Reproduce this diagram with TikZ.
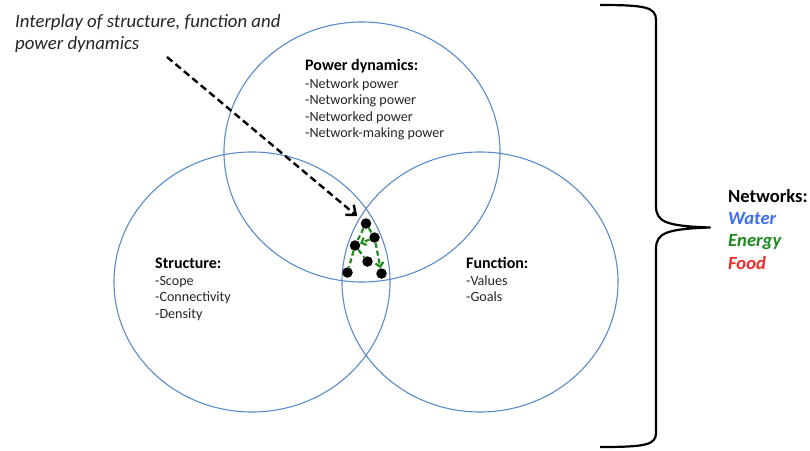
\documentclass[tikz,border=0pt]{standalone}
\usepackage{fontspec}
\setmainfont{Carlito}
\usetikzlibrary{arrows.meta}
\definecolor{ringblue}{HTML}{5B8CC8}
\definecolor{netgreen}{HTML}{1E8A1E}
\definecolor{waterblue}{HTML}{3D6DF2}
\definecolor{foodred}{HTML}{F22A2A}
\definecolor{bodygrey}{HTML}{262626}

\begin{document}
\begin{tikzpicture}[x=1pt,y=-1pt,
  ring/.style={draw=ringblue, line width=1.1pt},
  body/.style={anchor=base west, inner sep=0pt, text=bodygrey,
    font=\fontsize{14.1}{16}\selectfont},
  head/.style={anchor=base west, inner sep=0pt, text=black,
    font=\fontsize{16}{18}\selectfont\bfseries},
  note/.style={anchor=base west, inner sep=0pt, text=bodygrey,
    font=\fontsize{18.8}{21}\selectfont\itshape},
  netlabel/.style={anchor=base west, inner sep=0pt,
    font=\fontsize{18.6}{21}\selectfont\bfseries},
  netitem/.style={netlabel, font=\fontsize{18.6}{21}\selectfont\bfseries\itshape},
  actor/.style={circle, fill=black, inner sep=0pt, minimum size=10.5pt},
  tie/.style={draw=netgreen, line width=2.2pt, dash pattern=on 5pt off 3pt},
  tiearrow/.style={tie, -{Straight Barb[length=4pt,width=8pt]}},
]
\useasboundingbox (0,0) rectangle (810,450);
\fill[white] (0,0) rectangle (810,450);

% three overlapping domains
\draw[ring] (362,152) ellipse [x radius=138, y radius=130];
\draw[ring] (252,282) ellipse [x radius=138, y radius=130];
\draw[ring] (480,282) ellipse [x radius=138, y radius=130];

% caption with pointer
\node[note] (cap1) at (15,27) {Interplay of structure, function and};
\node[note] (cap2) at (15,49) {power dynamics};

% power dynamics
\node[head] (pdh) at (305,70.5) {Power dynamics:};
\node[body] (pd1) at (305,88) {-Network power};
\node[body] (pd2) at (305,104.5) {-Networking power};
\node[body] (pd3) at (305,121) {-Networked power};
\node[body] (pd4) at (305,137.5) {-Network-making power};

% structure
\node[head] (sth) at (155,268.5) {Structure:};
\node[body] (st1) at (155,285) {-Scope};
\node[body] (st2) at (155,301.5) {-Connectivity};
\node[body] (st3) at (155,318) {-Density};

% function
\node[head] (fnh) at (466,268.5) {Function:};
\node[body] (fn1) at (466,285) {-Values};
\node[body] (fn2) at (466,301.5) {-Goals};

% network of actors in the shared region
\node[actor] (T)  at (366,223.5) {};
\node[actor] (R)  at (374.5,237.5) {};
\node[actor] (L)  at (355,245.5) {};
\node[actor] (M)  at (367.5,261.5) {};
\node[actor] (BL) at (347.5,272.5) {};
\node[actor] (BR) at (381.5,273.5) {};
\draw[tie] (T) -- (L);
\draw[tie] (L) -- (BL);
\draw[tie] (T) -- (R);
\draw[tiearrow] (R) -- (BR);
\draw[tiearrow] (R) -- (L);
\draw[tie] (L) -- (M);

% pointer from the caption to the shared region
\coordinate (src) at (167,57);
\draw[line width=2.4pt, dash pattern=on 7pt off 4pt,
  -{Straight Barb[length=8pt,width=13pt]}, shorten >=6pt] (src) -- (T);

% brace gathering the networks
\draw[line width=2.2pt, line join=round]
  (600,5) .. controls (645,5) and (656,7) .. (656,20)
  -- (656,206) .. controls (656,222) and (666,226) .. (710,227.5)
  .. controls (666,229) and (656,233) .. (656,249)
  -- (656,433) .. controls (656,445) and (645,447) .. (600,447);

% network types
\node[netlabel, text=black] (nw) at (728,202) {Networks:};
\node[netitem, text=waterblue] (nwa) at (728,224) {Water};
\node[netitem, text=netgreen] (nen) at (728,246.5) {Energy};
\node[netitem, text=foodred] (nfo) at (728,269) {Food};
\end{tikzpicture}
\end{document}
